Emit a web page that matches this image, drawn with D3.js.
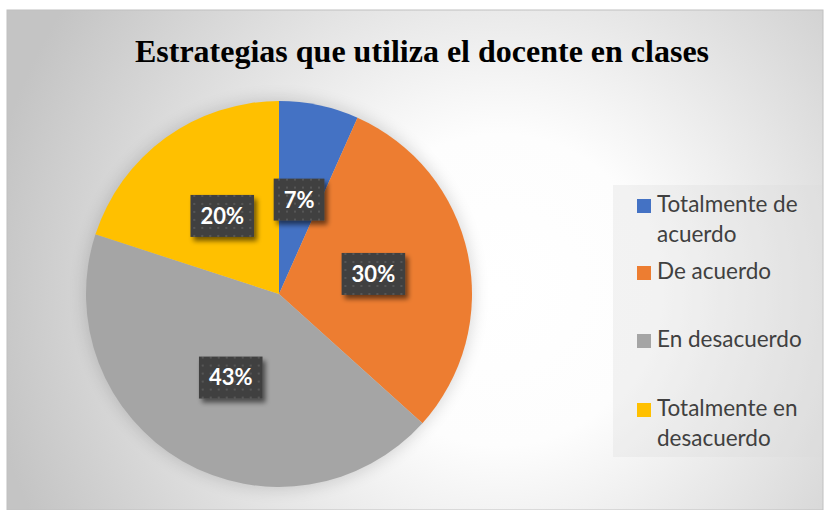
<!DOCTYPE html>
<html>
<head>
<meta charset="utf-8">
<script src="https://cdn.jsdelivr.net/npm/d3@7"></script>
<style>
  body { margin: 0; background: #fff; }
  svg { display: block; }
</style>
</head>
<body>
<div id="chart"></div>
<script>
// data (30 answers -> 7%, 30%, 43%, 20%)
const categories = ["Totalmente de acuerdo", "De acuerdo", "En desacuerdo", "Totalmente en desacuerdo"];
const counts = [2, 9, 13, 6];
const percentLabels = ["7%", "30%", "43%", "20%"];
const legendLines = [["Totalmente de", "acuerdo"], ["De acuerdo"], ["En desacuerdo"], ["Totalmente en", "desacuerdo"]];
const colors = ["#4472C4", "#ED7D31", "#A5A5A5", "#FFC000"];

const width = 824, height = 510;
const frame = {x: 7, y: 10, w: 816, h: 500};
const cx = 279, cy = 294, radius = 193;

const svg = d3.select("#chart").append("svg")
    .attr("width", width)
    .attr("height", height);

const defs = svg.append("defs");

// background gradient
const bg = defs.append("radialGradient")
    .attr("id", "bg")
    .attr("gradientUnits", "userSpaceOnUse")
    .attr("cx", 500).attr("cy", 290).attr("r", 520);
bg.append("stop").attr("offset", "0").attr("stop-color", "#ffffff");
bg.append("stop").attr("offset", "0.3").attr("stop-color", "#fdfdfd");
bg.append("stop").attr("offset", "1").attr("stop-color", "#c4c4c4");

// soft shadow round the pie
const glow = defs.append("filter").attr("id", "glow")
    .attr("x", "-20%").attr("y", "-20%").attr("width", "140%").attr("height", "140%");
glow.append("feGaussianBlur").attr("stdDeviation", 8);

// shadow for the data label boxes
const sh = defs.append("filter").attr("id", "boxShadow")
    .attr("x", "-30%").attr("y", "-30%").attr("width", "170%").attr("height", "170%");
sh.append("feGaussianBlur").attr("in", "SourceAlpha").attr("stdDeviation", 2.5).attr("result", "b");
sh.append("feOffset").attr("in", "b").attr("dx", 3).attr("dy", 4).attr("result", "o");
sh.append("feComponentTransfer").attr("in", "o").attr("result", "s")
  .append("feFuncA").attr("type", "linear").attr("slope", 0.55);
const merge = sh.append("feMerge");
merge.append("feMergeNode").attr("in", "s");
merge.append("feMergeNode").attr("in", "SourceGraphic");

// dotted pattern inside label boxes
const pat = defs.append("pattern")
    .attr("id", "dots")
    .attr("patternUnits", "userSpaceOnUse")
    .attr("width", 8).attr("height", 8);
pat.append("rect").attr("width", 8).attr("height", 8).attr("fill", "#404040");
pat.append("rect").attr("x", 3).attr("y", 3).attr("width", 2).attr("height", 2).attr("fill", "#575757");

svg.append("rect")
    .attr("x", frame.x).attr("y", frame.y)
    .attr("width", frame.w).attr("height", frame.h)
    .attr("fill", "url(#bg)")
    .attr("stroke", "#c0c0c0")
    .attr("stroke-width", 1);

// title
svg.append("text")
    .attr("x", 422)
    .attr("y", 62)
    .attr("text-anchor", "middle")
    .attr("font-family", "'Liberation Serif', 'Times New Roman', serif")
    .attr("font-weight", "bold")
    .attr("font-size", 32)
    .attr("fill", "#000")
    .text("Estrategias que utiliza el docente en clases");

// pie
const pie = d3.pie().sort(null).value(d => d);
const arcs = pie(counts);
const arc = d3.arc().innerRadius(0).outerRadius(radius);
const labelArc = d3.arc().innerRadius(radius * 0.5).outerRadius(radius * 0.5);

const g = svg.append("g").attr("transform", `translate(${cx},${cy})`);

g.append("circle")
    .attr("r", radius + 2)
    .attr("fill", "#000")
    .attr("opacity", 0.14)
    .attr("filter", "url(#glow)");

g.selectAll(".slice")
    .data(arcs)
  .enter().append("path")
    .attr("class", "slice")
    .attr("d", arc)
    .attr("fill", (d, i) => colors[i]);

// data labels
const labels = g.selectAll(".lbl")
    .data(arcs)
  .enter().append("g")
    .attr("class", "lbl")
    .attr("transform", d => `translate(${labelArc.centroid(d)})`);

labels.append("rect").attr("class", "box");
labels.append("text")
    .attr("text-anchor", "middle")
    .attr("dy", "0.36em")
    .attr("font-family", "Lato, 'Open Sans', sans-serif")
    .attr("font-weight", "bold")
    .attr("font-size", 22)
    .attr("fill", "#fff")
    .text((d, i) => percentLabels[i]);

labels.each(function() {
  const t = d3.select(this).select("text").node();
  const w = t.getComputedTextLength() + 20;
  d3.select(this).select("rect")
      .attr("x", -w / 2).attr("y", -21)
      .attr("width", w).attr("height", 42)
      .attr("fill", "url(#dots)")
      .attr("filter", "url(#boxShadow)");
});

// legend
const legend = svg.append("g");
legend.append("rect")
    .attr("x", 613).attr("y", 185)
    .attr("width", 209).attr("height", 272)
    .attr("fill", "#dcdcdc")
    .attr("opacity", 0.3);

const legendY = [212, 279, 347, 416];
const items = legend.selectAll(".item")
    .data(categories)
  .enter().append("g")
    .attr("class", "item")
    .attr("transform", (d, i) => `translate(637,${legendY[i]})`);

items.append("rect")
    .attr("x", 0).attr("y", -13)
    .attr("width", 14).attr("height", 14)
    .attr("fill", (d, i) => colors[i]);

items.append("text")
    .attr("font-family", "Lato, 'Open Sans', sans-serif")
    .attr("font-size", 22.5)
    .attr("fill", "#404040")
    .selectAll("tspan")
    .data((d, i) => legendLines[i])
  .enter().append("tspan")
    .attr("x", 20)
    .attr("dy", (d, j) => j === 0 ? 0 : 30)
    .text(d => d);
</script>
</body>
</html>
